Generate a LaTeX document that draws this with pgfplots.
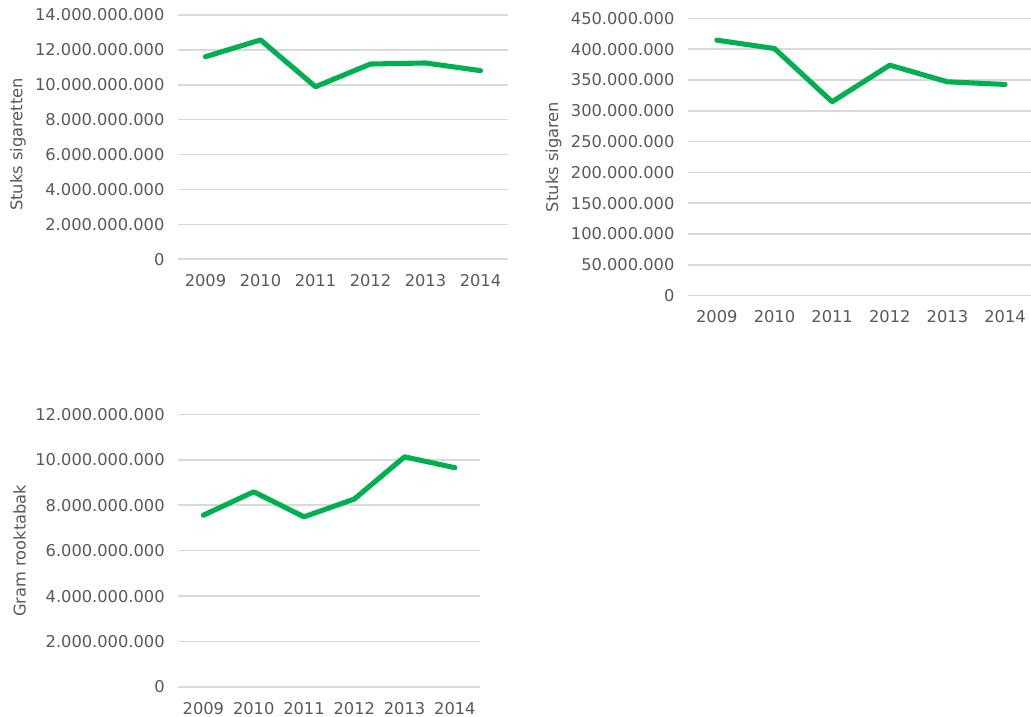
\documentclass[border=0pt]{standalone}
\usepackage{pgfplots}
\pgfplotsset{compat=1.18}
\usepackage{fontspec}
\setmainfont{DejaVu Sans}
\definecolor{xlgreen}{HTML}{00B050}
\definecolor{gridgrey}{HTML}{D9D9D9}
\definecolor{txtgrey}{HTML}{595959}
\pgfplotsset{
  mystyle/.style={
    scale only axis,
    anchor=south west,
    axis line style={draw=none},
    major tick length=0pt,
    ymajorgrids,
    grid style={gridgrey, line width=1.2pt},
    ymin=0,
    xmin=-0.5, xmax=5.5,
    xtick={0,...,5},
    xticklabels={2009,2010,2011,2012,2013,2014},
    scaled y ticks=false,
    /pgf/number format/.cd, fixed, precision=0, 1000 sep={.}, assume math mode=true,
    /pgfplots/.cd,
    tick label style={font=\fontsize{12.2}{14}\selectfont, text=txtgrey},
    yticklabel style={inner sep=0pt, xshift=-10pt},
    xticklabel style={inner sep=0pt, yshift=-11pt},
    label style={font=\fontsize{12.2}{14}\selectfont, text=txtgrey},
    ylabel shift=3.5pt,
    clip=false,
  },
  myline/.style={xlgreen, line width=3.8pt, line cap=round, line join=round, mark=none},
}
\begin{document}
\begin{tikzpicture}
\useasboundingbox (0,0) rectangle (773.25pt,537.75pt);
% Chart 1: sigaretten
\begin{axis}[mystyle,
  at={(133.5pt,343.3pt)}, width=247.5pt, height=183.2pt,
  ymax=14000000000, ytick distance=2000000000,
  ylabel={Stuks sigaretten},
  ylabel style={at={(ticklabel cs:0.47)}}]
\addplot[myline] coordinates {(0,11610000000) (1,12570000000) (2,9890000000) (3,11190000000) (4,11250000000) (5,10810000000)};
\end{axis}
% Chart 2: sigaren
\begin{axis}[mystyle,
  at={(516pt,316pt)}, width=257.25pt, height=208pt,
  xmax=5.45,
  ymax=450000000, ytick distance=50000000,
  ylabel={Stuks sigaren}]
\addplot[myline] coordinates {(0,414600000) (1,401000000) (2,314600000) (3,374000000) (4,347000000) (5,342700000)};
\end{axis}
% Chart 3: rooktabak
\begin{axis}[mystyle,
  at={(133.7pt,22.5pt)}, width=226.3pt, height=204.5pt,
  ymax=12000000000, ytick distance=2000000000,
  ylabel={Gram rooktabak}]
\addplot[myline] coordinates {(0,7560000000) (1,8590000000) (2,7490000000) (3,8270000000) (4,10130000000) (5,9650000000)};
\end{axis}
\end{tikzpicture}
\end{document}
